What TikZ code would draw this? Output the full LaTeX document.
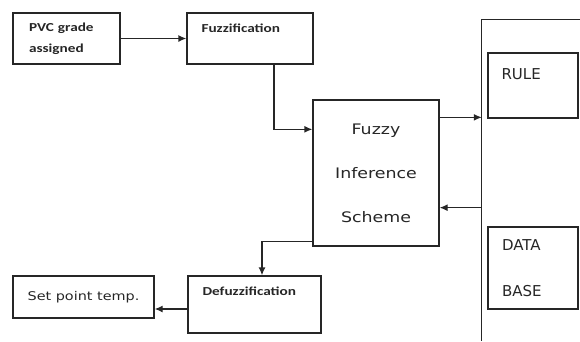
\documentclass[tikz,border=0pt]{standalone}
\usepackage{fontspec}
\setmainfont{DejaVu Sans}
\newfontfamily\calfont[FakeStretch=1.25]{Carlito}
\newfontfamily\widefont[FakeStretch=1.2]{DejaVu Sans}
\usetikzlibrary{arrows.meta}
\begin{document}
\begin{tikzpicture}[x=1pt,y=-1pt]
		\tikzstyle{box}=[draw, rectangle, line width=1.3pt, black!85, text=black!85, inner sep=0pt]
		\tikzstyle{edge}=[draw, line width=1.3pt, black!85]
		\tikzstyle{arrow}=[edge, -{Latex[length=8pt,width=7pt]}]
		\tikzstyle{small}=[font=\calfont\bfseries\fontsize{12.2}{21}\selectfont, text=black!85, inner sep=0pt]
		\tikzstyle{big}=[font=\widefont\fontsize{14.5}{44}\selectfont, text=black!85, inner sep=0pt]
		\tikzstyle{plain}=[font=\fontsize{15}{46}\selectfont, text=black!85, inner sep=0pt]
		\useasboundingbox (0,0) rectangle (580,341);

		% boxes
		\node[box, small, minimum width=107pt, minimum height=51pt, text width=75pt, align=left] (pvc) at (66.5,38.5) {PVC grade\\assigned};
		\node[box, minimum width=126pt, minimum height=51pt] (fuzz) at (250,38.5) {};
		\node[box, big, minimum width=126pt, minimum height=146pt, align=center] (fis) at (376,173) {Fuzzy\\Inference\\Scheme};
		\node[minimum width=98pt, minimum height=321pt, inner sep=0pt] (kb) at (531,180.5) {};
		\draw[edge] (kb.north east) -- (kb.north west) -- (kb.south west);
		\node[box, minimum width=90pt, minimum height=65pt] (rule) at (533,85.5) {};
		\node[box, plain, minimum width=90pt, minimum height=82pt, text width=62pt, align=left] (data) at (533,268) {DATA\\BASE};
		\node[box, big, font=\widefont\fontsize{12}{16}\selectfont, minimum width=141pt, minimum height=42pt] (setpt) at (83.5,297) {Set point temp.};

		\node[box, minimum width=133pt, minimum height=57pt] (defuzz) at (254.5,304.5) {};

		% texts at the top of the boxes
		\node[small, anchor=west] (fuzzlbl) at ([xshift=15pt,yshift=-16pt]fuzz.north west) {Fuzzification};
		\node[plain, anchor=west] (rulelbl) at ([xshift=14pt,yshift=-22pt]rule.north west) {RULE};
		\node[small, anchor=west] (defuzzlbl) at ([xshift=15pt,yshift=-16pt]defuzz.north west) {Defuzzification};

		\coordinate (r1) at ([yshift=-18pt]fis.north east);
		\coordinate (r2) at ([yshift=39pt]fis.south east);
		\coordinate (d1) at ([yshift=5pt]fis.south west);
		\coordinate (d2) at ([yshift=-4.5pt]defuzz.west);

		% connectors
		\draw[arrow] (pvc) -- (fuzz);
		\draw[arrow] ([xshift=24pt]fuzz.south) |- ([yshift=-30pt]fis.north west);
		\draw[arrow] (r1) -- (r1 -| kb.west);
		\draw[arrow] (r2 -| kb.west) -- (r2);
		\draw[arrow] (d1) -| ([xshift=7.5pt]defuzz.north);
		\draw[arrow] (d2) -- (d2 -| setpt.east);
	\end{tikzpicture}
\end{document}
